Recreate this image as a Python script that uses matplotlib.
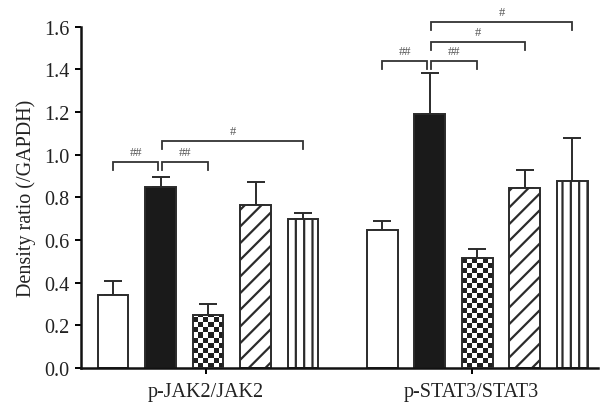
import numpy as np
import matplotlib
matplotlib.use("Agg")
import matplotlib.pyplot as plt
from matplotlib.patches import Rectangle

plt.rcParams['font.family'] = ['Liberation Serif', 'DejaVu Serif']
plt.rcParams['hatch.linewidth'] = 1.6
plt.rcParams['hatch.color'] = '#1a1a1a'

groups = ["p-JAK2/JAK2", "p-STAT3/STAT3"]
jak2_mean = [0.34, 0.85, 0.25, 0.765, 0.70]
jak2_err = [0.07, 0.045, 0.05, 0.105, 0.025]
stat3_mean = [0.645, 1.19, 0.515, 0.845, 0.875]
stat3_err = [0.045, 0.195, 0.045, 0.085, 0.205]

# (group, bar a, bar b, bracket height, text)
brackets = [
    (0, 0, 1, 0.965, "##"),
    (0, 1, 2, 0.965, "##"),
    (0, 1, 4, 1.064, "#"),
    (1, 0, 1, 1.437, "##"),
    (1, 1, 2, 1.437, "##"),
    (1, 1, 3, 1.528, "#"),
    (1, 1, 4, 1.62, "#"),
]

edge = '#2b2b2b'
txtcol = '#222222'
styles = [
    dict(color='white', hatch=None),
    dict(color='#1a1a1a', hatch=None),
    dict(color='white', hatch='checker'),
    dict(color='white', hatch='//'),
    dict(color='white', hatch='||'),
]

fig = plt.figure(figsize=(6.01, 4.10), dpi=100)
ax = fig.add_axes([0.1348, 0.1, 0.8602, 0.8324])

width = 0.65
offsets = [0.0, 5.67]
means = [jak2_mean, stat3_mean]
errs = [jak2_err, stat3_err]

for g in range(2):
    xs = offsets[g] + np.arange(5)
    for i, x in enumerate(xs):
        st = styles[i]
        m = means[g][i]
        e = errs[g][i]
        ax.errorbar(x, m, yerr=[[0], [e]], fmt='none', ecolor=edge,
                    elinewidth=1.4, capsize=6.5, capthick=1.4, zorder=1)
        if st['hatch'] == 'checker':
            ax.bar(x, m, width, color='white', edgecolor='none', zorder=2)
            nx = 6
            cy = 0.0235
            ny = int(np.ceil(m / cy))
            board = (np.add.outer(np.arange(ny), np.arange(nx)) % 2).astype(float)
            img = ax.imshow(board, cmap='gray_r', vmin=0, vmax=1.15,
                            extent=(x - width / 2, x + width / 2, 0, ny * cy),
                            origin='lower', aspect='auto',
                            interpolation='nearest', zorder=2.5)
            clip = Rectangle((x - width / 2, 0), width, m,
                             transform=ax.transData)
            img.set_clip_path(clip)
            ax.bar(x, m, width, color='none', edgecolor=edge,
                   linewidth=1.4, zorder=3)
        else:
            ax.bar(x, m, width, color=st['color'], edgecolor=edge,
                   linewidth=1.4, hatch=st['hatch'], zorder=2)

# significance brackets
for g, a, b, h, txt in brackets:
    xa = offsets[g] + a
    xb = offsets[g] + b
    if a == 1:
        xa += 0.03
    if b == 1:
        xb -= 0.05
    leg = 0.037
    ax.plot([xa, xa, xb, xb], [h - leg, h, h, h - leg], color='#333333',
            lw=1.3, clip_on=False, solid_joinstyle='miter')
    ax.text((xa + xb) / 2, h + 0.02, txt, ha='center', va='bottom',
            fontsize=9, color='#555555', clip_on=False)

ax.set_xlim(-0.674, 10.21)
ax.set_ylim(0, 1.6)
ax.set_yticks(np.arange(0, 1.61, 0.2))
ax.set_yticklabels([f"{v:.1f}" for v in np.arange(0, 1.61, 0.2)])
ax.set_xticks([1.95, 7.55])
ax.set_xticklabels(groups)
ax.set_ylabel("Density ratio (/GAPDH)", fontsize=14.5, labelpad=6,
              color=txtcol)

for s in ['top', 'right']:
    ax.spines[s].set_visible(False)
for s in ['left', 'bottom']:
    ax.spines[s].set_linewidth(1.8)
    ax.spines[s].set_color('#111111')
ax.tick_params(axis='y', length=4.5, width=1.4, labelsize=14.5, pad=4,
               labelcolor=txtcol)
ax.tick_params(axis='x', length=4, width=1.4, labelsize=14.5, pad=6,
               labelcolor=txtcol)

fig.savefig("out.png", dpi=100)
